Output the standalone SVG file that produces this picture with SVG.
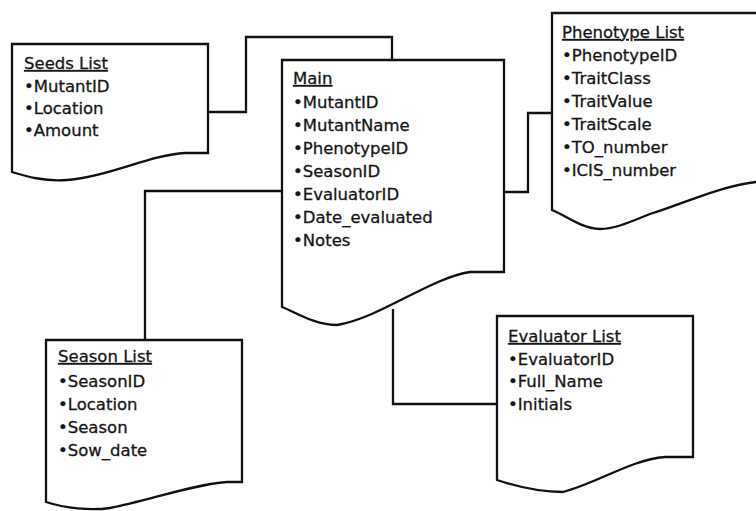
<svg xmlns="http://www.w3.org/2000/svg" width="756" height="511" viewBox="0 0 756 511">
<style>
.box{fill:#fff;stroke:#111;stroke-width:2.3;stroke-linejoin:miter}
.con{fill:none;stroke:#111;stroke-width:2.3}
text{font-family:"DejaVu Sans","Liberation Sans",sans-serif;font-size:16.5px;fill:#151515;stroke:#151515;stroke-width:0.3}
.t{text-decoration:underline}
</style>
<rect width="756" height="511" fill="#fff"/>
<g id="connectors">
<path class="con" d="M208,112 H246 V37 H392 V60"/>
<path class="con" d="M282,191 H145 V340"/>
<path class="con" d="M504,192 H528 V113 H552"/>
<path class="con" d="M393,309 V404 H497"/>
</g>
<g id="seeds">
<path class="box" d="M12,44 H208 V153 H185 C150,155 110,176 67,180 C45,182 25,176 12,172 Z"/>
<text class="t" x="24" y="69">Seeds List</text>
<text x="24" y="92">•MutantID</text>
<text x="24" y="114">•Location</text>
<text x="24" y="136">•Amount</text>
</g>
<g id="main">
<path class="box" d="M282,60 H504 V272 H470 C430,278 380,318 337,325 C315,325 295,312 282,307 Z"/>
<text class="t" x="293" y="84">Main</text>
<text x="293" y="108">•MutantID</text>
<text x="293" y="131">•MutantName</text>
<text x="293" y="154">•PhenotypeID</text>
<text x="293" y="177">•SeasonID</text>
<text x="293" y="200">•EvaluatorID</text>
<text x="293" y="223">•Date_evaluated</text>
<text x="293" y="246">•Notes</text>
</g>
<g id="phenotype">
<path class="box" d="M552,13 H760 V182 H756 C720,186 680,205 650,214 C630,222 615,229 600,229 C580,228 565,215 552,210 Z"/>
<text class="t" x="562" y="38">Phenotype List</text>
<text x="562" y="61">•PhenotypeID</text>
<text x="562" y="84">•TraitClass</text>
<text x="562" y="107">•TraitValue</text>
<text x="562" y="130">•TraitScale</text>
<text x="562" y="153">•TO_number</text>
<text x="562" y="176">•ICIS_number</text>
</g>
<g id="season">
<path class="box" d="M46,340 H242 V482 H227 C195,484 150,500 110,508 C90,511 65,508 46,502 Z"/>
<text class="t" x="58" y="362">Season List</text>
<text x="58" y="387">•SeasonID</text>
<text x="58" y="410">•Location</text>
<text x="58" y="433">•Season</text>
<text x="58" y="456">•Sow_date</text>
</g>
<g id="evaluator">
<path class="box" d="M497,316 H693 V457 H665 C630,460 600,482 563,492 C540,492 515,486 497,480 Z"/>
<text class="t" x="508" y="342">Evaluator List</text>
<text x="508" y="365">•EvaluatorID</text>
<text x="508" y="387">•Full_Name</text>
<text x="508" y="410">•Initials</text>
</g>
</svg>
